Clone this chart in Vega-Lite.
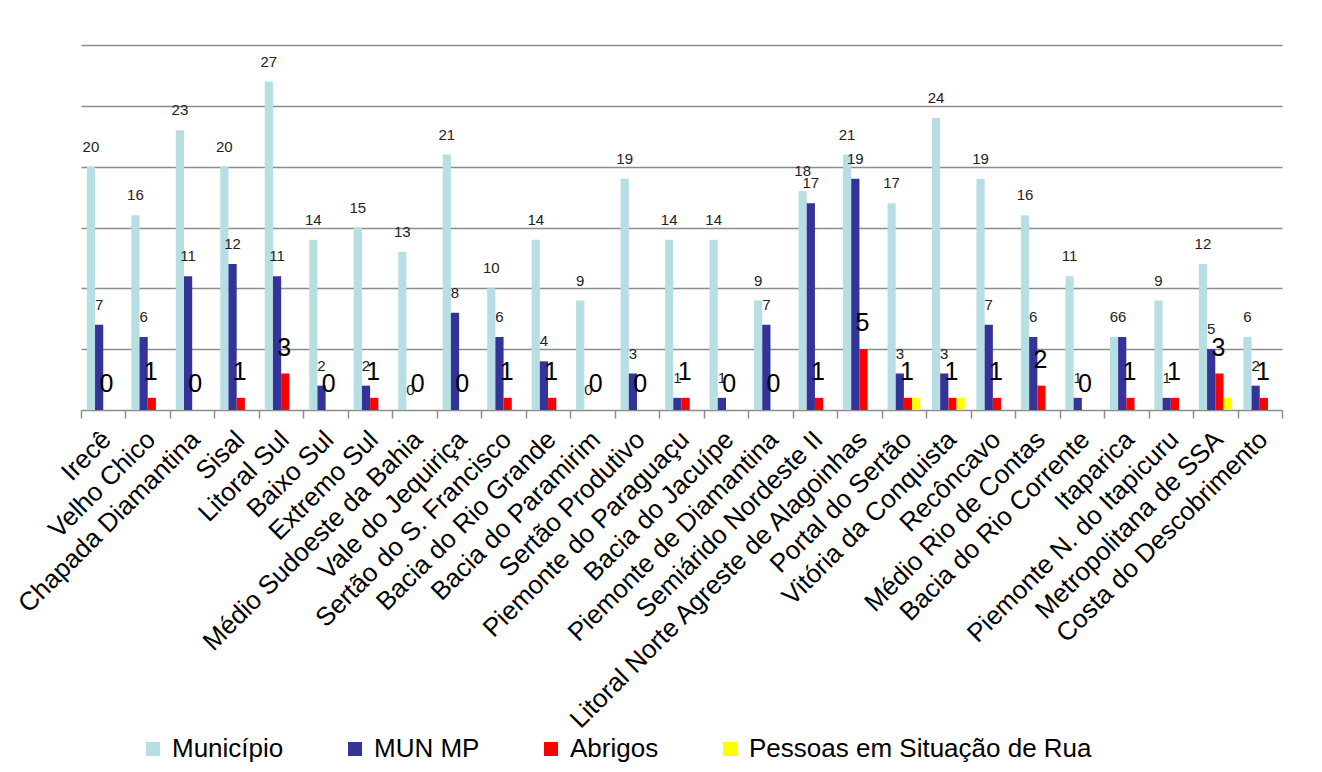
{
  "$schema": "https://vega.github.io/schema/vega-lite/v6.json",
  "width": 1201,
  "height": 365,
  "autosize": {"type": "none"},
  "padding": {"left": 81, "top": 45, "right": 40, "bottom": 362},
  "background": "white",
  "config": {"view": {"stroke": null}, "font": "Liberation Sans"},
  "data": {
    "values": [
      {"regiao": "Irecê", "Município": 20, "MUN MP": 7, "Abrigos": 0, "Pessoas em Situação de Rua": 0},
      {"regiao": "Velho Chico", "Município": 16, "MUN MP": 6, "Abrigos": 1, "Pessoas em Situação de Rua": 0},
      {"regiao": "Chapada Diamantina", "Município": 23, "MUN MP": 11, "Abrigos": 0, "Pessoas em Situação de Rua": 0},
      {"regiao": "Sisal", "Município": 20, "MUN MP": 12, "Abrigos": 1, "Pessoas em Situação de Rua": 0},
      {"regiao": "Litoral Sul", "Município": 27, "MUN MP": 11, "Abrigos": 3, "Pessoas em Situação de Rua": 0},
      {"regiao": "Baixo Sul", "Município": 14, "MUN MP": 2, "Abrigos": 0, "Pessoas em Situação de Rua": 0},
      {"regiao": "Extremo Sul", "Município": 15, "MUN MP": 2, "Abrigos": 1, "Pessoas em Situação de Rua": 0},
      {"regiao": "Médio Sudoeste da Bahia", "Município": 13, "MUN MP": 0, "Abrigos": 0, "Pessoas em Situação de Rua": 0},
      {"regiao": "Vale do Jequiriça", "Município": 21, "MUN MP": 8, "Abrigos": 0, "Pessoas em Situação de Rua": 0},
      {"regiao": "Sertão do S. Francisco", "Município": 10, "MUN MP": 6, "Abrigos": 1, "Pessoas em Situação de Rua": 0},
      {"regiao": "Bacia do Rio Grande", "Município": 14, "MUN MP": 4, "Abrigos": 1, "Pessoas em Situação de Rua": 0},
      {"regiao": "Bacia do Paramirim", "Município": 9, "MUN MP": 0, "Abrigos": 0, "Pessoas em Situação de Rua": 0},
      {"regiao": "Sertão Produtivo", "Município": 19, "MUN MP": 3, "Abrigos": 0, "Pessoas em Situação de Rua": 0},
      {"regiao": "Piemonte do Paraguaçu", "Município": 14, "MUN MP": 1, "Abrigos": 1, "Pessoas em Situação de Rua": 0},
      {"regiao": "Bacia do Jacuípe", "Município": 14, "MUN MP": 1, "Abrigos": 0, "Pessoas em Situação de Rua": 0},
      {"regiao": "Piemonte de Diamantina", "Município": 9, "MUN MP": 7, "Abrigos": 0, "Pessoas em Situação de Rua": 0},
      {"regiao": "Semiárido Nordeste II", "Município": 18, "MUN MP": 17, "Abrigos": 1, "Pessoas em Situação de Rua": 0},
      {"regiao": "Litoral Norte Agreste de Alagoinhas", "Município": 21, "MUN MP": 19, "Abrigos": 5, "Pessoas em Situação de Rua": 0},
      {"regiao": "Portal do Sertão", "Município": 17, "MUN MP": 3, "Abrigos": 1, "Pessoas em Situação de Rua": 1},
      {"regiao": "Vitória da Conquista", "Município": 24, "MUN MP": 3, "Abrigos": 1, "Pessoas em Situação de Rua": 1},
      {"regiao": "Recôncavo", "Município": 19, "MUN MP": 7, "Abrigos": 1, "Pessoas em Situação de Rua": 0},
      {"regiao": "Médio Rio de Contas", "Município": 16, "MUN MP": 6, "Abrigos": 2, "Pessoas em Situação de Rua": 0},
      {"regiao": "Bacia do Rio Corrente", "Município": 11, "MUN MP": 1, "Abrigos": 0, "Pessoas em Situação de Rua": 0},
      {"regiao": "Itaparica", "Município": 6, "MUN MP": 6, "Abrigos": 1, "Pessoas em Situação de Rua": 0},
      {"regiao": "Piemonte N. do Itapicuru", "Município": 9, "MUN MP": 1, "Abrigos": 1, "Pessoas em Situação de Rua": 0},
      {"regiao": "Metropolitana de SSA", "Município": 12, "MUN MP": 5, "Abrigos": 3, "Pessoas em Situação de Rua": 1},
      {"regiao": "Costa do Descobrimento", "Município": 6, "MUN MP": 2, "Abrigos": 1, "Pessoas em Situação de Rua": 0}
    ]
  },
  "transform": [
    {"fold": ["Município", "MUN MP", "Abrigos", "Pessoas em Situação de Rua"], "as": ["serie", "valor"]}
  ],
  "encoding": {
    "x": {
      "field": "regiao",
      "type": "nominal",
      "sort": null,
      "scale": {"paddingInner": 0, "paddingOuter": 0},
      "axis": {
        "title": null,
        "labelAngle": -45,
        "labelFontSize": 26,
        "labelFont": "Liberation Sans",
        "labelColor": "#000000",
        "labelLimit": 0,
        "labelOverlap": false,
        "labelPadding": 8,
        "labelOffset": -6,
        "domainColor": "#8c8c8c",
        "domainWidth": 1.5,
        "tickColor": "#8c8c8c",
        "tickWidth": 1.5,
        "tickSize": 8,
        "tickBand": "extent",
        "grid": false
      }
    },
    "xOffset": {
      "field": "serie",
      "type": "nominal",
      "sort": ["Município", "MUN MP", "Abrigos", "Pessoas em Situação de Rua"],
      "scale": {"domain": ["Município", "MUN MP", "Abrigos", "Pessoas em Situação de Rua"], "paddingInner": 0, "paddingOuter": 0.71}
    },
    "y": {
      "field": "valor",
      "type": "quantitative",
      "scale": {"domain": [0, 30], "nice": false},
      "axis": {
        "title": null,
        "labels": false,
        "ticks": false,
        "domain": false,
        "values": [5, 10, 15, 20, 25, 30],
        "grid": true,
        "gridColor": "#8c8c8c",
        "gridWidth": 1.5
      }
    }
  },
  "layer": [
    {
      "mark": {"type": "bar"},
      "encoding": {
        "color": {
          "field": "serie",
          "type": "nominal",
          "sort": ["Município", "MUN MP", "Abrigos", "Pessoas em Situação de Rua"],
          "scale": {
            "domain": ["Município", "MUN MP", "Abrigos", "Pessoas em Situação de Rua"],
            "range": ["#B7DFE3", "#333399", "#FF0000", "#FFFF00"]
          },
          "legend": {
            "orient": "none",
            "legendX": 59,
            "legendY": 691,
            "direction": "horizontal",
            "title": null,
            "symbolType": "square",
            "symbolSize": 196,
            "symbolStrokeWidth": 0,
            "symbolOpacity": 1,
            "labelFontSize": 26,
            "labelFont": "Liberation Sans",
            "labelColor": "#000000",
            "labelLimit": 0,
            "gridAlign": "each",
            "columnPadding": 58,
            "labelOffset": 6,
            "padding": 0
          }
        }
      }
    },
    {
      "transform": [{"filter": "datum.serie === 'Município' || datum.serie === 'MUN MP'"}],
      "mark": {"type": "text", "fontSize": 15, "dy": -15, "baseline": "alphabetic", "color": "#222222"},
      "encoding": {"text": {"field": "valor", "type": "quantitative"}}
    },
    {
      "transform": [{"filter": "datum.serie === 'Abrigos'"}],
      "mark": {"type": "text", "fontSize": 25, "dy": -18, "dx": -1, "baseline": "alphabetic", "color": "#000000"},
      "encoding": {"text": {"field": "valor", "type": "quantitative"}}
    }
  ]
}
